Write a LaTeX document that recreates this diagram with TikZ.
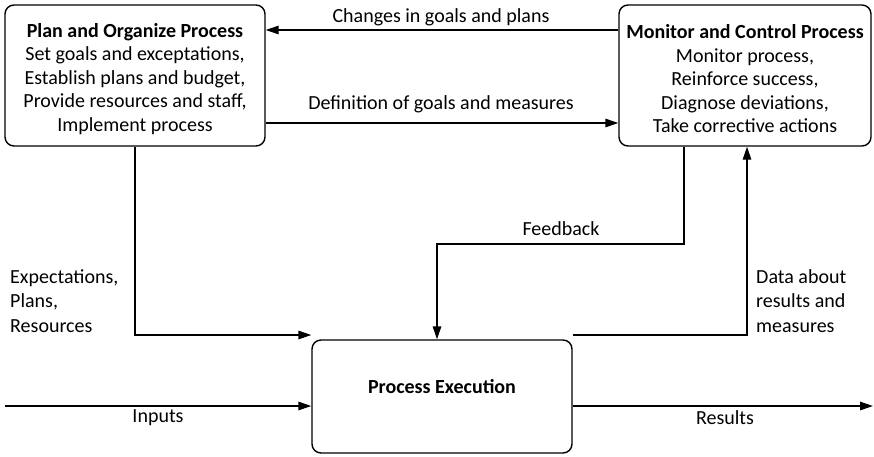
\documentclass[tikz,border=0pt]{standalone}
\usepackage{fontspec}
\setmainfont{Carlito}
\usetikzlibrary{arrows.meta}
\begin{document}
\begin{tikzpicture}[x=1pt,y=-1pt,
  box/.style={draw,line width=1.4pt,rounded corners=9pt,inner sep=0pt,align=center,font=\fontsize{20}{23.5}\selectfont},
  lbl/.style={font=\fontsize{20}{24.5}\selectfont,inner sep=0pt},
  conn/.style={line width=1.4pt,-{Triangle[length=13pt,width=8.5pt]}}]
\useasboundingbox (0,0) rectangle (874,456);
\node[box,minimum width=260pt,minimum height=141pt] (plan) at (135,75.5)
  {\rule{0pt}{21pt}\textbf{Plan and Organize Process}\\Set goals and exceptations,\\Establish plans and budget,\\Provide resources and staff,\\Implement process};
\node[box,minimum width=252pt,minimum height=141pt] (mon) at (745,75.5)
  {\rule{0pt}{21pt}\textbf{Monitor and Control Process}\\Monitor process,\\Reinforce success,\\Diagnose deviations,\\Take corrective actions};
\node[box,minimum width=260pt,minimum height=113pt] (exec) at (442,396.5) {\raisebox{20pt}{\textbf{Process Execution}}};
\coordinate (inS) at (5,406);
\coordinate (resE) at (873,406);
\coordinate (c1) at (135,335);
\coordinate (f1) at (684,244);
\coordinate (f2) at (437,244);
\coordinate (d1) at (747,335);
% connectors
\draw[conn] (mon.west |- 0,30) -- (plan.east |- 0,30);
\draw[conn] (plan.east |- 0,123) -- (mon.west |- 0,123);
\draw[conn] (plan.south -| c1) -- (c1) -- (exec.west |- c1);
\draw[conn] (inS) -- (exec.west |- inS);
\draw[conn] (mon.south -| f1) -- (f1) -- (f2) -- (exec.north -| f2);
\draw[conn] (exec.east |- d1) -- (d1) -- (mon.south -| d1);
\draw[conn] (exec.east |- resE) -- (resE);
% labels
\node[lbl] (l1) at (441,17) {Changes in goals and plans};
\node[lbl] (l2) at (441,104) {Definition of goals and measures};
\node[lbl] (l3) at (561,229) {Feedback};
\node[lbl,align=left,anchor=west] (l4) at (10,301) {Expectations,\\Plans,\\Resources};
\node[lbl,align=left,anchor=west] (l5) at (756,301) {Data about\\results and\\measures};
\node[lbl] (l6) at (158,418) {Inputs};
\node[lbl] (l7) at (725,418) {Results};
\end{tikzpicture}
\end{document}
